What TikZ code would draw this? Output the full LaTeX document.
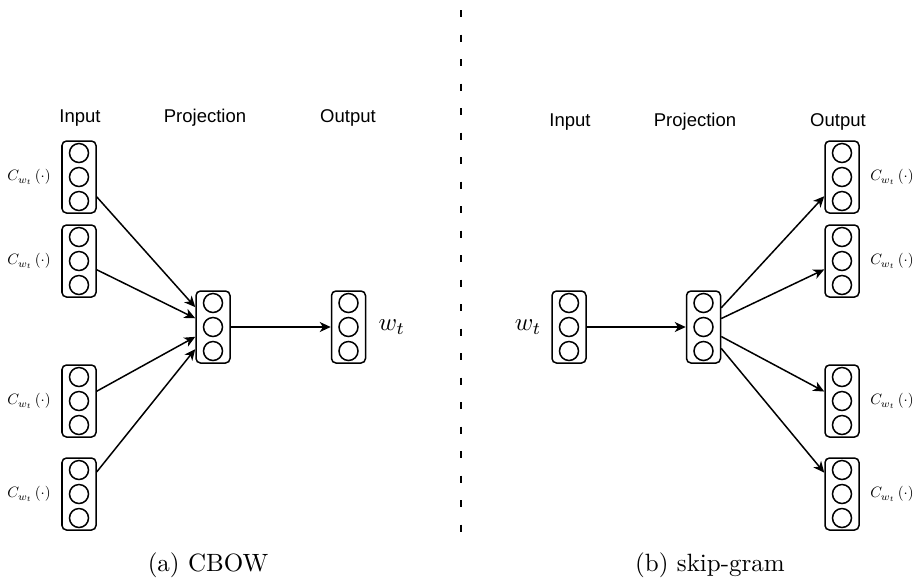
\documentclass[tikz,border=0pt]{standalone}
\usepackage{graphicx}
\usepackage{fontspec}
\newfontfamily\headfont{Liberation Sans}
\usetikzlibrary{arrows.meta}

% one word-vector block: a rounded box holding three cells
\newcommand\vblock[3]{%
  \node[vec] (#1) at (#2,#3) {};
  \node[cell] (#1-a) at ([yshift=9.6pt]#1.center) {};
  \node[cell] (#1-b) at (#1.center) {};
  \node[cell] (#1-c) at ([yshift=-9.6pt]#1.center) {};}

% context-word label, set at full size and shrunk as a whole
\newcommand\ctxlabel{\scalebox{0.6}{$C_{w_t}\left(\cdot\right)$}}

\begin{document}
\begin{tikzpicture}[x=0.4pt,y=-0.4pt,
  vec/.style={draw, line width=0.6pt, rounded corners=1.8pt,
    minimum width=13.6pt, minimum height=28.8pt, inner sep=0pt},
  cell/.style={draw, circle, line width=0.6pt, minimum size=7.6pt, inner sep=0pt},
  head/.style={font=\headfont\fontsize{7.4}{9}\selectfont},
  ctx/.style={font=\fontsize{10}{12}\selectfont, inner sep=0pt},
  word/.style={font=\fontsize{10}{12}\selectfont, inner sep=0pt},
  subcaption/.style={font=\fontsize{10}{12}\selectfont},
  link/.style={line width=0.6pt, -{Stealth[length=4.4pt,width=4pt,inset=1.3pt]}},
  sep/.style={line width=0.8pt, dash pattern=on 2.8pt off 7pt}]

\useasboundingbox (0,0) rectangle (915,583);

% ---------- CBOW ----------
\node[head] (hinA) at (80,118) {Input};
\node[head] (hprA) at (205,118) {Projection};
\node[head] (houA) at (348,118) {Output};

\vblock{in1}{79}{177}
\vblock{in2}{79}{261}
\vblock{in3}{79}{401}
\vblock{in4}{79}{494}
\vblock{proj}{213}{327}
\vblock{out}{348.5}{327}

\foreach \b in {in1,in2,in3,in4}{
  \node[ctx, anchor=east] (l\b) at ([xshift=-4pt]\b.west) {\ctxlabel};
  \draw[link] (\b) -- (proj);
}
\draw[link] (proj) -- (out);
\node[word, anchor=west] (wout) at (378,327) {$w_t$};

\node[subcaption] (capA) at (208,565) {(a) CBOW};

% ---------- divider ----------
\coordinate (dtop) at (461,10);
\coordinate (dbot) at (461,548);
\draw[sep] (dtop) -- (dbot);

% ---------- skip-gram ----------
\node[head] (hinB) at (570,122) {Input};
\node[head] (hprB) at (695,122) {Projection};
\node[head] (houB) at (838,122) {Output};

\vblock{rin}{569}{327}
\vblock{rproj}{703.5}{327}
\vblock{rout1}{842}{177}
\vblock{rout2}{842}{261}
\vblock{rout3}{842}{401}
\vblock{rout4}{842}{494}

\node[word, anchor=east] (win) at (542,327) {$w_t$};
\draw[link] (rin) -- (rproj);
\foreach \b in {rout1,rout2,rout3,rout4}{
  \node[ctx, anchor=west] (l\b) at ([xshift=4pt]\b.east) {\ctxlabel};
  \draw[link] (rproj) -- (\b);
}

\node[subcaption] (capB) at (710,565) {(b) skip-gram};
\end{tikzpicture}
\end{document}
